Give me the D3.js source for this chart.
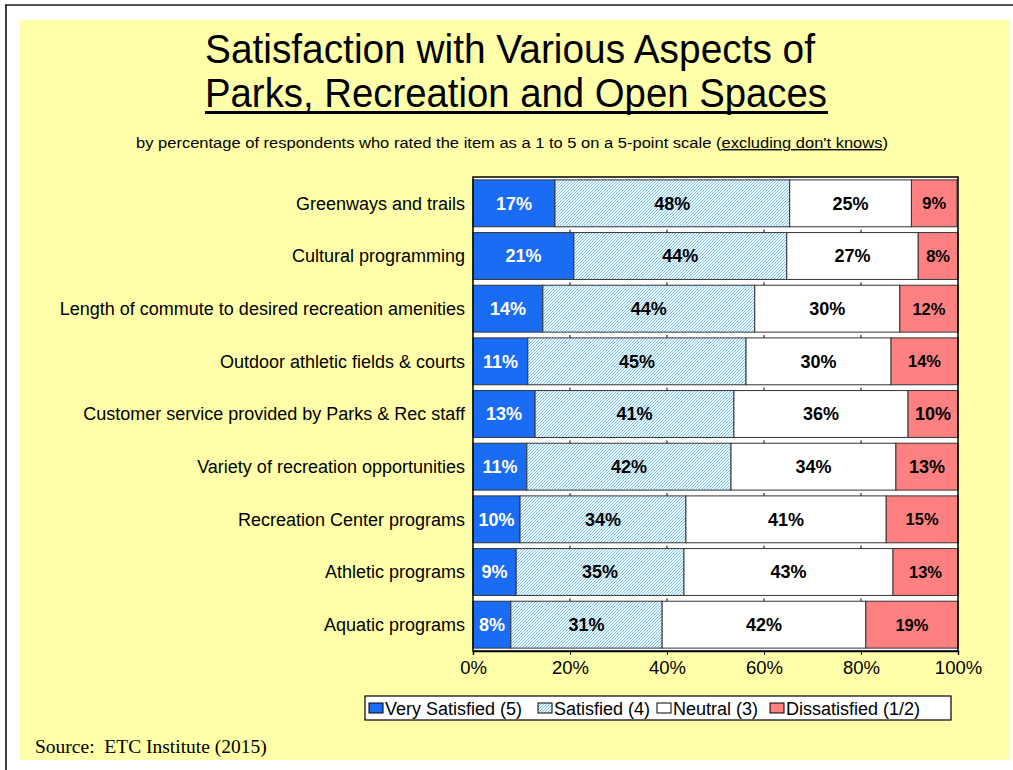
<!DOCTYPE html>
<html lang="en">
<head>
<meta charset="UTF-8">
<script src="https://cdn.jsdelivr.net/npm/d3@7"></script>
<style>
    body { margin: 0; background: #fff; }
    svg text { font-family: "Liberation Sans", Arial, sans-serif; }
</style>
</head>
<body>
<svg id="chart" width="1013" height="770"></svg>
<script>
// data
const categories = [
    "Greenways and trails",
    "Cultural programming",
    "Length of commute to desired recreation amenities",
    "Outdoor athletic fields & courts",
    "Customer service provided by Parks & Rec staff",
    "Variety of recreation opportunities",
    "Recreation Center programs",
    "Athletic programs",
    "Aquatic programs"
];
const verySatisfied = [16.9, 20.8, 14.4, 11.3, 12.8, 11.1, 9.7, 8.9, 7.8];
const satisfied     = [48.4, 43.9, 43.7, 45.0, 41.0, 42.1, 34.2, 34.6, 31.2];
const neutral       = [25.1, 27.1, 29.9, 29.9, 35.9, 34.0, 41.3, 43.1, 42.0];
const dissatisfied  = [9.4, 8.2, 12.0, 13.8, 10.3, 12.8, 14.8, 13.4, 19.0];
const seriesNames = ["Very Satisfied (5)", "Satisfied (4)", "Neutral (3)", "Dissatisfied (1/2)"];
const xTicks = [0, 20, 40, 60, 80, 100];

const svg = d3.select("#chart");

// page frame
svg.append("line").attr("x1", 5).attr("x2", 1013).attr("y1", 5).attr("y2", 5)
    .attr("stroke", "#555").attr("stroke-width", 2);
svg.append("line").attr("x1", 6).attr("x2", 6).attr("y1", 5).attr("y2", 770)
    .attr("stroke", "#000").attr("stroke-width", 1.5);
svg.append("rect").attr("x", 20).attr("y", 20).attr("width", 990).attr("height", 740)
    .attr("fill", "#ffffaa");

// hatch pattern for "Satisfied"
const defs = svg.append("defs");
const pat = defs.append("pattern").attr("id", "hatch").attr("patternUnits", "userSpaceOnUse")
    .attr("width", 3).attr("height", 3);
pat.append("rect").attr("width", 3).attr("height", 3).attr("fill", "#eef8fe");
pat.append("path").attr("d", "M-1,1 l2,-2 M0,3 l3,-3 M2,4 l2,-2")
    .attr("stroke", "#6cbfee").attr("stroke-width", 0.9);

// titles
svg.append("text").attr("x", 510).attr("y", 63).attr("text-anchor", "middle")
    .attr("font-size", 41).attr("textLength", 610).attr("lengthAdjust", "spacingAndGlyphs")
    .text("Satisfaction with Various Aspects of");
svg.append("text").attr("x", 516).attr("y", 107).attr("text-anchor", "middle")
    .attr("font-size", 41).attr("textLength", 622).attr("lengthAdjust", "spacingAndGlyphs")
    .text("Parks, Recreation and Open Spaces");
svg.append("line").attr("x1", 205).attr("x2", 828).attr("y1", 112.5).attr("y2", 112.5)
    .attr("stroke", "#000").attr("stroke-width", 3);

const sub = svg.append("text").attr("x", 512).attr("y", 148).attr("text-anchor", "middle")
    .attr("font-size", 14).attr("textLength", 752).attr("lengthAdjust", "spacingAndGlyphs");
sub.append("tspan").text("by percentage of respondents who rated the item as a 1 to 5 on a 5-point scale (");
sub.append("tspan").attr("text-decoration", "underline").text("excluding don't knows");
sub.append("tspan").text(")");

// chart
const plot = { left: 473, right: 958, top: 177, bottom: 651 };
const x = d3.scaleLinear().domain([0, 100]).range([plot.left, plot.right]);
const y = d3.scaleBand().domain(categories).range([plot.top, plot.bottom]).paddingInner(0.11).paddingOuter(0.055);

svg.append("rect").attr("x", plot.left).attr("y", plot.top)
    .attr("width", plot.right - plot.left).attr("height", plot.bottom - plot.top)
    .attr("fill", "#fff");

const fills = ["#1a6cf5", "url(#hatch)", "#ffffff", "#ff8080"];
const labelColors = ["#fff", "#000", "#000", "#000"];
const bigRed = ["Customer service provided by Parks & Rec staff", "Variety of recreation opportunities"];

const rows = categories.map((c, i) => {
    const vals = [verySatisfied[i], satisfied[i], neutral[i], dissatisfied[i]];
    let acc = 0;
    return { cat: c, segs: vals.map((v, k) => { const s = { k, x0: acc, x1: acc + v, v }; acc += v; return s; }) };
});

// small ticks at band boundaries
const bandEdges = categories.slice(1).map(c => y(c) - y.step() * y.paddingInner() / 2);
bandEdges.forEach(e => {
    [20, 40, 60, 80].forEach(t => {
        svg.append("line").attr("x1", x(t)).attr("x2", x(t)).attr("y1", e).attr("y2", e + 4)
            .attr("stroke", "#000").attr("stroke-width", 1);
    });
});

const g = svg.append("g");
rows.forEach(r => {
    r.segs.forEach(s => {
        const x0 = x(s.x0), x1 = Math.min(x(s.x1), plot.right);
        g.append("rect")
            .attr("x", x0).attr("y", y(r.cat))
            .attr("width", x1 - x0).attr("height", y.bandwidth())
            .attr("fill", fills[s.k]).attr("stroke", "#333").attr("stroke-width", 1);
        const small = s.k === 3 && !bigRed.includes(r.cat);
        g.append("text")
            .attr("x", (x0 + x1) / 2)
            .attr("y", y(r.cat) + y.bandwidth() / 2)
            .attr("dy", "0.36em").attr("text-anchor", "middle")
            .attr("font-weight", "bold").attr("font-size", small ? 16.5 : 18)
            .attr("fill", labelColors[s.k])
            .text(Math.round(s.v) + "%");
    });
});

// plot border
svg.append("rect").attr("x", plot.left).attr("y", plot.top)
    .attr("width", plot.right - plot.left).attr("height", plot.bottom - plot.top)
    .attr("fill", "none").attr("stroke", "#000").attr("stroke-width", 1.5);

// category labels
svg.append("g").selectAll("text").data(categories).join("text")
    .attr("x", 465).attr("y", d => y(d) + y.bandwidth() / 2).attr("dy", "0.36em")
    .attr("text-anchor", "end").attr("font-size", 18).text(d => d);

// x axis
const xAxis = svg.append("g").attr("transform", `translate(0,${plot.bottom})`)
    .call(d3.axisBottom(x).tickValues(xTicks).tickSize(4).tickFormat(d => d + "%"));
xAxis.select(".domain").attr("stroke", "#000").attr("stroke-width", 1.5);
xAxis.selectAll("text").attr("font-size", 18.5).attr("fill", "#000").attr("y", 23).attr("dy", 0)
    .style("font-family", "'Liberation Sans', Arial, sans-serif");

// legend
const legend = svg.append("g");
legend.append("rect").attr("x", 365).attr("y", 696).attr("width", 586).attr("height", 24)
    .attr("fill", "#fff").attr("stroke", "#000").attr("stroke-width", 1.2);
const legX = [369, 538, 657, 770];
seriesNames.forEach((n, k) => {
    legend.append("rect").attr("x", legX[k]).attr("y", 703).attr("width", 14).attr("height", 10)
        .attr("fill", fills[k]).attr("stroke", "#000").attr("stroke-width", 1);
    legend.append("text").attr("x", legX[k] + 16).attr("y", 715)
        .attr("font-size", 18).text(n);
});

// source
svg.append("text").attr("x", 35).attr("y", 753)
    .style("font-family", "'Liberation Serif', 'Times New Roman', serif")
    .style("white-space", "pre")
    .attr("font-size", 19.5).text("Source:  ETC Institute (2015)");
</script>
</body>
</html>
